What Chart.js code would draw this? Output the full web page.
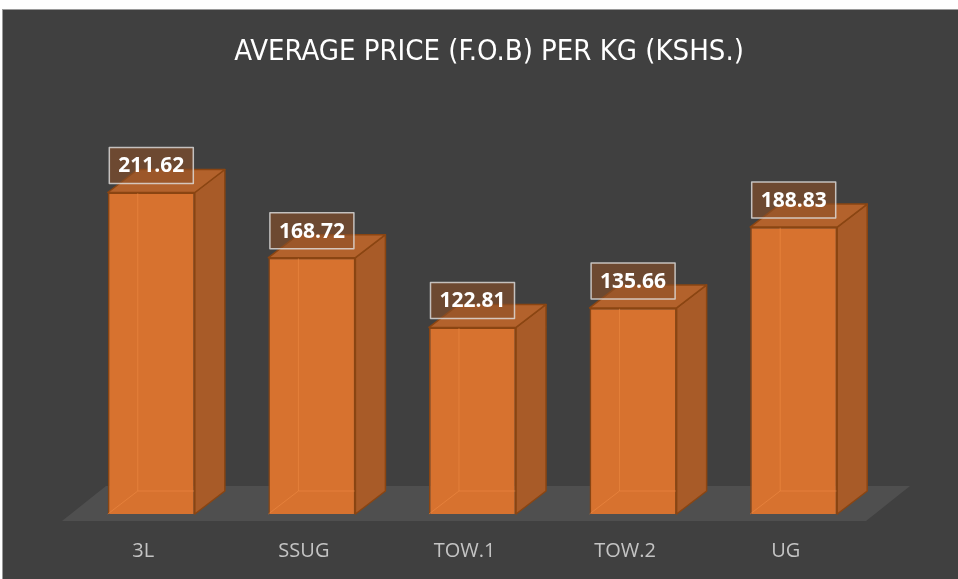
<!DOCTYPE html>
<html>
<head>
<meta charset="utf-8">
<script src="https://cdn.jsdelivr.net/npm/chart.js@4.4.1/dist/chart.umd.min.js"></script>
<style>
  html, body { margin: 0; padding: 0; background: #ffffff; }
  #box {
    position: absolute; left: 2px; top: 9px;
    width: 955px; height: 569px;
    border: 1px solid #9a9a9a; border-right: none; border-bottom: none;
    background: #404040;
  }
  #chart { display: block; }
</style>
</head>
<body>
<div id="box"><canvas id="chart" width="955" height="569"></canvas></div>
<script>
// data
var categories = ["3L", "SSUG", "TOW.1", "TOW.2", "UG"];
var prices = [211.62, 168.72, 122.81, 135.66, 188.83];
var chartTitle = "AVERAGE PRICE (F.O.B) PER KG (KSHS.)";

// 3d look
var depthX = 30;
var depthY = -23;
var frontColor = "#D7722F";
var sideColor = "#A85B28";
var topColor = "#B3622C";
var edgeColor = "#8A4512";

// floor under the bars
var floorPlugin = {
  id: "floor",
  beforeDatasetsDraw: function(chart) {
    var ctx = chart.ctx;
    var xs = chart.scales.x;
    var base = chart.scales.y.getPixelForValue(0);
    var fy = base + 7, by = base - 28;
    var fl = xs.left - 9, fr = xs.right - 8;
    ctx.save();
    ctx.fillStyle = "#4F4F4F";
    ctx.beginPath();
    ctx.moveTo(fl, fy);
    ctx.lineTo(fr, fy);
    ctx.lineTo(fr + 44, by);
    ctx.lineTo(fl + 44, by);
    ctx.closePath();
    ctx.fill();
    ctx.restore();
  }
};

// side + top faces, hidden edges, value boxes
var boxPlugin = {
  id: "bars3d",
  afterDatasetsDraw: function(chart) {
    var ctx = chart.ctx;
    var meta = chart.getDatasetMeta(0);
    ctx.save();
    meta.data.forEach(function(bar, i) {
      var p = bar.getProps(["x", "y", "base", "width"], true);
      var l = p.x - p.width / 2, r = p.x + p.width / 2;
      var t = p.y, b = p.base;

      // edges seen through the front
      ctx.strokeStyle = "rgba(240,140,70,0.55)";
      ctx.lineWidth = 1;
      ctx.beginPath();
      ctx.moveTo(l, b);
      ctx.lineTo(l + depthX, b + depthY);
      ctx.lineTo(r + depthX, b + depthY);
      ctx.moveTo(l + depthX, b + depthY);
      ctx.lineTo(l + depthX, t + depthY);
      ctx.stroke();

      ctx.lineWidth = 1.5;
      ctx.strokeStyle = edgeColor;
      ctx.lineJoin = "round";
      // side
      ctx.fillStyle = sideColor;
      ctx.beginPath();
      ctx.moveTo(r, t);
      ctx.lineTo(r + depthX, t + depthY);
      ctx.lineTo(r + depthX, b + depthY);
      ctx.lineTo(r, b);
      ctx.closePath();
      ctx.fill();
      ctx.stroke();
      // top
      ctx.fillStyle = topColor;
      ctx.beginPath();
      ctx.moveTo(l, t);
      ctx.lineTo(l + depthX, t + depthY);
      ctx.lineTo(r + depthX, t + depthY);
      ctx.lineTo(r, t);
      ctx.closePath();
      ctx.fill();
      ctx.stroke();
    });

    meta.data.forEach(function(bar, i) {
      var p = bar.getProps(["x", "y"], true);
      var w = 84, h = 36;
      var cx = p.x, cy = p.y - 27;
      ctx.fillStyle = "rgba(140,80,40,0.6)";
      ctx.fillRect(cx - w / 2, cy - h / 2, w, h);
      ctx.strokeStyle = "rgba(225,225,225,0.8)";
      ctx.lineWidth = 1.5;
      ctx.strokeRect(cx - w / 2, cy - h / 2, w, h);
      ctx.fillStyle = "#ffffff";
      ctx.font = "bold 21px 'Open Sans'";
      ctx.textAlign = "center";
      ctx.textBaseline = "middle";
      ctx.fillText(prices[i].toFixed(2), cx, cy + 1);
    });
    ctx.restore();
  }
};

// title centred on the whole box, not on the plot
var titlePlugin = {
  id: "topTitle",
  afterDraw: function(chart) {
    var ctx = chart.ctx;
    ctx.save();
    ctx.fillStyle = "#ffffff";
    ctx.font = "29px 'DejaVu Sans Condensed', 'Liberation Sans Narrow', sans-serif";
    ctx.textAlign = "center";
    ctx.textBaseline = "middle";
    ctx.fillText(chartTitle, 486, 42);
    ctx.restore();
  }
};

var ctx = document.getElementById("chart").getContext("2d");
var myChart = new Chart(ctx, {
  type: "bar",
  data: {
    labels: categories,
    datasets: [
      {
        data: prices,
        backgroundColor: frontColor,
        borderColor: edgeColor,
        borderWidth: 1.5,
        barPercentage: 0.542,
        categoryPercentage: 1
      }
    ]
  },
  options: {
    responsive: false,
    animation: false,
    events: [],
    layout: {
      padding: { left: 68, right: 84, top: 109, bottom: 0 }
    },
    plugins: {
      legend: { display: false },
      tooltip: { enabled: false },
      title: { display: false }
    },
    scales: {
      x: {
        grid: { display: false, drawTicks: false },
        border: { display: false },
        ticks: {
          color: "#C4C4C4",
          font: { family: "'Open Sans'", size: 20 },
          padding: 25,
          labelOffset: -8
        },
        afterFit: function(scale) {
          scale.height = 65;
        }
      },
      y: {
        display: false,
        min: 0,
        max: 260
      }
    }
  },
  plugins: [floorPlugin, boxPlugin, titlePlugin]
});
</script>
</body>
</html>
